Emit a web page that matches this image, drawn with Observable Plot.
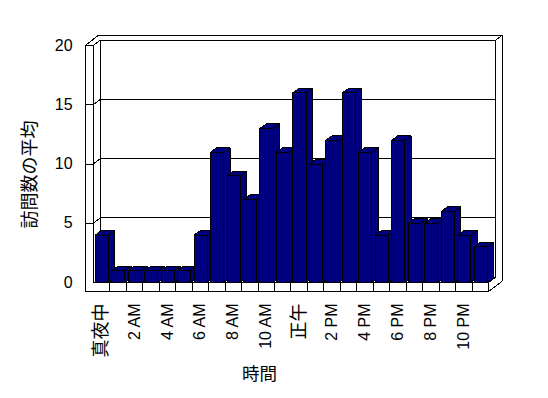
<!DOCTYPE html>
<html><head><meta charset="utf-8">
<script src="https://cdn.jsdelivr.net/npm/d3@7"></script>
<script src="https://cdn.jsdelivr.net/npm/@observablehq/plot@0.6"></script>
<style>html,body{margin:0;padding:0;background:#fff;} svg{display:block}</style>
</head><body><div id="chart"></div>
<script>
// ---- data ----
const hours = [0,1,2,3,4,5,6,7,8,9,10,11,12,13,14,15,16,17,18,19,20,21,22,23];
const visits = [4,1,1,1,1,1,4,11,9,7,13,11,16,10,12,16,11,4,12,5,5,6,4,3];
const tickHours = [0,2,4,6,8,10,12,14,16,18,20,22];
const tickLabels = ["真夜中","2 AM","4 AM","6 AM","8 AM","10 AM","正午","2 PM","4 PM","6 PM","8 PM","10 PM"];
const yTicks = [0,5,10,15,20];
const xTitle = "時間";
const yTitle = "訪問数の平均";

// ---- layout ----
const W = 548, H = 398, mL = 92.8, mR = 59.9, mT = 45, mB = 116;
const yMax = yTicks[yTicks.length - 1];
const nC = hours.length;
const pxX = (W - mL - mR) / nC;
const pxY = (H - mT - mB) / yMax;
const depth = (px, py) => [px / pxX, py / pxY];
const [diX, diY] = depth(7, 5.3);     // inner wall depth
const [doX, doY] = depth(13.6, 10.3); // outer wall depth
const [bX, bY] = depth(6.3, 4.6);     // bar depth
const wallT = -8.2 / pxX;             // side wall thickness
const floorT = -9 / pxY;              // floor thickness
const toX = px => (px - mL) / pxX;    // pixel -> data helpers for titles
const toY = py => (H - mB - py) / pxY;

// frame segments (white box with black edges)
const segs = [];
const seg = (x1, y1, x2, y2) => segs.push({x1, y1, x2, y2});
seg(wallT, floorT, wallT, yMax);
seg(wallT, yMax, 0, yMax);
seg(0, 0, 0, yMax);
seg(0, 0, nC, 0);
seg(wallT, floorT, nC, floorT);
seg(nC, floorT, nC, 0);
for (const h of hours.slice(1)) seg(h, floorT, h, 0);
seg(0, yMax, diX, yMax + diY);
seg(wallT, yMax, wallT + doX, yMax + doY);
seg(diX, diY, diX, yMax + diY);
seg(diX, yMax + diY, nC + diX, yMax + diY);
seg(nC + diX, diY, nC + diX, yMax + diY);
seg(diX, diY, nC + diX, diY);
seg(nC, 0, nC + diX, diY);
seg(wallT + doX, yMax + doY, nC + doX, yMax + doY);
seg(nC + doX, floorT + doY, nC + doX, yMax + doY);
seg(nC + diX, yMax + diY, nC + doX, yMax + doY);
seg(nC, floorT, nC + doX, floorT + doY);
for (const v of yTicks.slice(1, -1)) {
  seg(wallT, v, 0, v);
  seg(0, v, diX, v + diY);
  seg(diX, v + diY, nC + diX, v + diY);
}

// bar faces, in painter's order
const polys = [];
hours.forEach((h, i) => {
  const v = visits[i], xl = h + 0.12, xr = h + 0.92;
  const add = (id, pts) => pts.concat([pts[0]]).forEach(([x, y]) => polys.push({id, x, y}));
  add(`s${i}`, [[xr, 0], [xr, v], [xr + bX, v + bY], [xr + bX, bY]]);
  add(`f${i}`, [[xl, 0], [xr, 0], [xr, v], [xl, v]]);
  add(`t${i}`, [[xl, v], [xr, v], [xr + bX, v + bY], [xl + bX, v + bY]]);
});

const isCJK = s => /[\u3000-\u9fff]/.test(s);
const ticks = tickHours.map((h, i) => ({h, label: tickLabels[i]}));
const latin = "Liberation Sans, Arial, sans-serif";
const cjk = "Noto Sans CJK JP, sans-serif";

const chart = Plot.plot({
  width: W, height: H,
  marginLeft: mL, marginRight: mR, marginTop: mT, marginBottom: mB,
  x: {type: "linear", domain: [0, nC], axis: null},
  y: {type: "linear", domain: [0, yMax], axis: null},
  style: {background: "#fff", color: "#000", fontFamily: latin},
  marks: [
    Plot.link(segs, {x1: "x1", y1: "y1", x2: "x2", y2: "y2", stroke: "#000", strokeWidth: 1, shapeRendering: "crispEdges"}),
    Plot.line(polys, {x: "x", y: "y", z: "id", fill: "#000080", stroke: "#000", strokeWidth: 1, strokeLinejoin: "miter", strokeLinecap: "square", shapeRendering: "crispEdges"}),
    Plot.text(yTicks, {x: wallT, y: d => d, dx: -12.5, text: d => String(d), textAnchor: "end", fontSize: 16, fontFamily: latin, fill: "#000"}),
    Plot.text(ticks.filter(d => !isCJK(d.label)), {x: d => d.h + 0.5, y: 0, text: "label", rotate: -90, textAnchor: "end", dy: 21, fontSize: 16, fontFamily: latin, fill: "#000"}),
    Plot.text(ticks.filter(d => isCJK(d.label)), {x: d => d.h + 0.5, y: 0, text: "label", rotate: -90, textAnchor: "end", dy: 21, fontSize: 18, fontFamily: cjk, fill: "#000"}),
    Plot.text([yTitle], {x: toX(30), y: toY(174), rotate: -90, text: d => d, fontSize: 18, fontFamily: cjk, fill: "#000"}),
    Plot.text([xTitle], {x: toX(259), y: toY(374), text: d => d, fontSize: 17.5, fontFamily: cjk, fill: "#000"})
  ]
});
document.getElementById("chart").appendChild(chart);
</script>
</body></html>
